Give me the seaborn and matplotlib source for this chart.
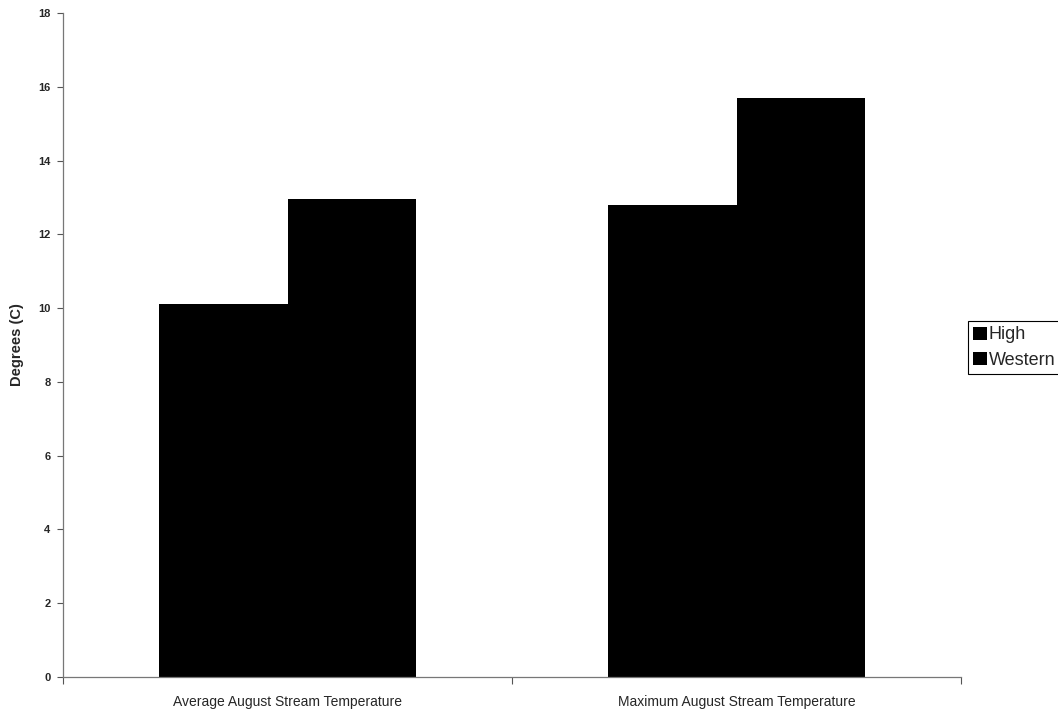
import pandas as pd
import seaborn as sns
import matplotlib.pyplot as plt

# values
categories = ['Average August Stream Temperature', 'Maximum August Stream Temperature']
groups = ['High', 'Western']
high_vals = [10.1, 12.8]
western_vals = [12.95, 15.7]

df = pd.DataFrame({
    'measure': categories * 2,
    'site': ['High'] * 2 + ['Western'] * 2,
    'degrees': high_vals + western_vals,
})

sns.set_style('white')
plt.rcParams['font.family'] = ['Liberation Sans', 'DejaVu Sans']

fig = plt.figure(figsize=(10.58, 7.11), dpi=100)
ax = fig.add_axes([63 / 1058, 34 / 711, 898 / 1058, 664 / 711])

sns.barplot(data=df, x='measure', y='degrees', hue='site', hue_order=groups,
            palette=['black', 'black'], width=0.572, gap=0, saturation=1,
            edgecolor='black', linewidth=0, ax=ax, legend=True)

ax.set_xlim(-0.5, 1.5)
ax.set_ylim(0, 18)
ax.set_yticks(range(0, 19, 2))
ax.tick_params(axis='y', labelsize=8, length=4, width=0.8, color='#555555',
               direction='out', left=True, pad=5)
for lbl in ax.get_yticklabels():
    lbl.set_fontweight('bold')

ax.set_xticks([0, 1])
ax.set_xticklabels(categories, fontsize=10)
ax.tick_params(axis='x', length=0, pad=13)
ax.set_xticks([-0.5, 0.5, 1.5], minor=True)
ax.tick_params(axis='x', which='minor', length=5, width=0.8, color='#555555',
               direction='out', bottom=True)

ax.set_xlabel('')
ax.set_ylabel('Degrees (C)', fontsize=10.5, fontweight='bold', labelpad=10)

for side in ['top', 'right']:
    ax.spines[side].set_visible(False)
for side in ['left', 'bottom']:
    ax.spines[side].set_color('#777777')
    ax.spines[side].set_linewidth(0.9)

handles, labels = ax.get_legend_handles_labels()
ax.legend_.remove()
leg = fig.legend(handles, labels, loc='upper left',
                 bbox_to_anchor=(968 / 1058, 1 - 321 / 711),
                 frameon=True, fancybox=False, edgecolor='black', framealpha=1,
                 fontsize=13, handlelength=0.75, handleheight=0.75,
                 handletextpad=0.1, borderpad=0.3, labelspacing=0.45,
                 borderaxespad=0)
leg.get_frame().set_linewidth(0.8)

fig.savefig('out.png', dpi=100)
